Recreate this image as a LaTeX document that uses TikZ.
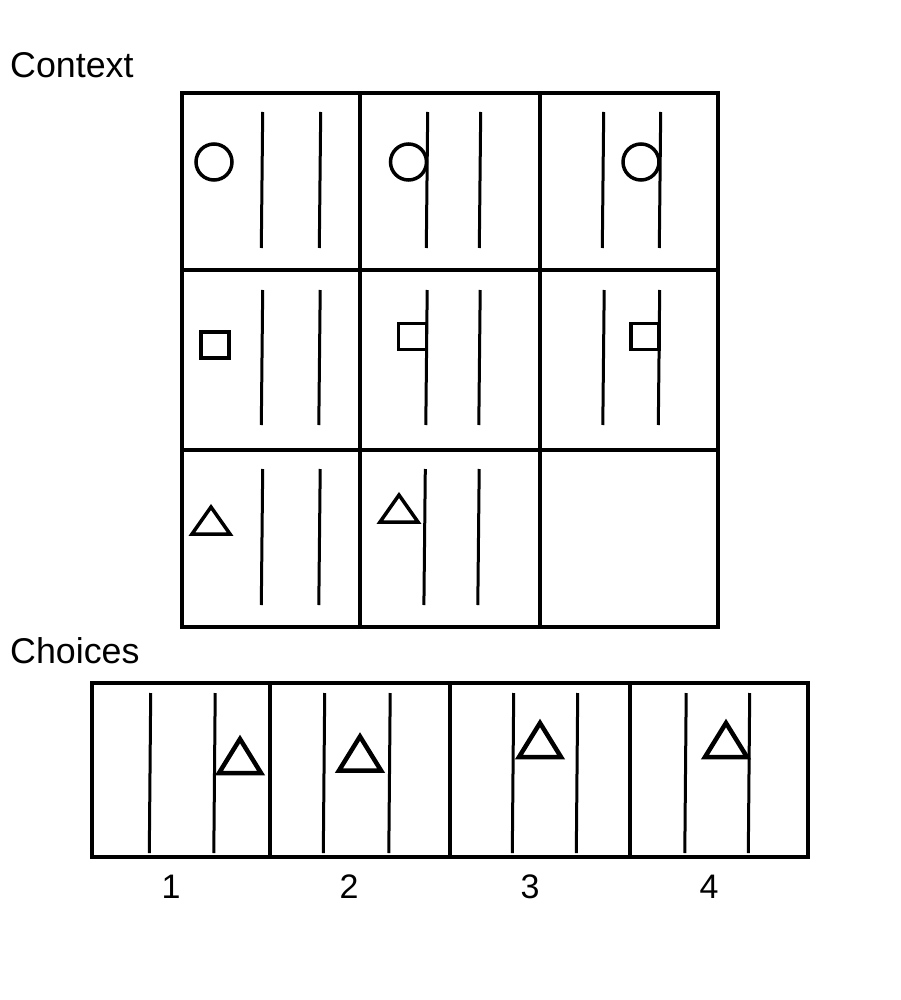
\documentclass[tikz,border=0pt]{standalone}
\usepackage{fontspec}
\setmainfont{Liberation Sans}

\begin{document}
\begin{tikzpicture}[x=1pt,y=-1pt,line join=miter,
                    frame/.style={line width=4pt},
                    bar/.style={line width=3pt},
                    glyph/.style={line width=3.5pt},
                    bigglyph/.style={line width=4.5pt},
                    title/.style={font=\fontsize{35.8}{42}\selectfont,
                                  inner sep=0pt,anchor=base west},
                    number/.style={font=\fontsize{34}{40}\selectfont,
                                   inner sep=0pt,anchor=base}]

  \useasboundingbox (0,0) rectangle (900,1000);

  \node[title] (context) at (10,78)  {Context};
  \node[title] (choices) at (10,663) {Choices};

  % context grid
  \draw[frame] (182,93) rectangle (718,627)
               (360,93) -- (360,627)
               (540,93) -- (540,627)
               (182,270) -- (718,270)
               (182,450) -- (718,450);

  \foreach \x/\t/\b in {262/112/248, 320/112/248, 427/112/248,
                        480/112/248, 603/112/248, 660/112/248,
                        262/290/425, 319.5/290/425, 426.5/290/425,
                        479.5/290/425, 603.5/290/425, 659/290/425,
                        262/469/605, 319.5/469/605, 424.6/469/605,
                        478.5/469/605}
    \draw[bar] (\x+0.7,\t) -- (\x-0.7,\b);

  \draw[glyph] (214,162)   circle[radius=18]
               (408.5,162) circle[radius=18]
               (641,162)   circle[radius=18];

  \draw[glyph] (201,332)     rectangle (229,358)
               (398.5,323.5) rectangle (426.5,349.5)
               (631,323.5)   rectangle (659,349.5);

  \draw[glyph] (192,534) -- (230,534) -- (211,507) -- cycle
               (380,522) -- (418,522) -- (399,495) -- cycle;

  % choices
  \draw[frame] (92,683) rectangle (808,857)
               (270,683) -- (270,857)
               (450,683) -- (450,857)
               (630,683) -- (630,857);

  \foreach \x in {150, 214.5, 324, 389.5, 513, 577, 685.5, 749}
    \draw[bar] (\x+0.7,693) -- (\x-0.7,853);

  \draw[bigglyph] (219,773)   -- (261,773)   -- (240,739)   -- cycle
                  (339,770.5) -- (381,770.5) -- (360,736.5) -- cycle
                  (519,757)   -- (561,757)   -- (540,723)   -- cycle
                  (705,757)   -- (747,757)   -- (726,723)   -- cycle;

  \node[number] (one)   at (171,898) {1};
  \node[number] (two)   at (349,898) {2};
  \node[number] (three) at (530,898) {3};
  \node[number] (four)  at (709,898) {4};
\end{tikzpicture}
\end{document}
